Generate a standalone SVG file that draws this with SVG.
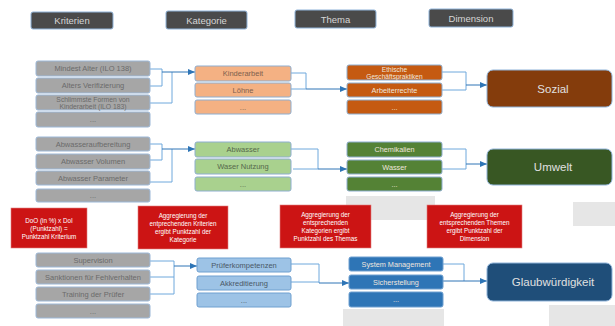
<svg xmlns="http://www.w3.org/2000/svg" width="615" height="326" viewBox="0 0 615 326">
<defs>
<marker id="arr" markerUnits="userSpaceOnUse" markerWidth="7" markerHeight="6" refX="7" refY="3" orient="auto"><path d="M0,0 L7,3 L0,6 z" fill="#2e75b6"/></marker>
<style>
text{font-family:"Liberation Sans",Arial,sans-serif;text-anchor:middle;dominant-baseline:central}
.hdr rect{fill:#4a4a4a;stroke:#8fb3d9;stroke-width:1}
.hdr text{fill:#d6d6d6;font-size:9.5px}
.crit rect{fill:#a6a6a6;stroke:#9cb8d8;stroke-width:1}
.crit text{fill:#6b6b6b;font-size:7.5px}
.kor rect{fill:#f4b183;stroke:#8eaed0;stroke-width:1}
.kor text{fill:#7e5f4e;font-size:7.5px}
.kgr rect{fill:#a9d18e;stroke:#8eaed0;stroke-width:1}
.kgr text{fill:#56684c;font-size:7.5px}
.kbl rect{fill:#9dc3e6;stroke:#6fa0d0;stroke-width:1}
.kbl text{fill:#4a5866;font-size:7.5px}
.tor rect{fill:#c55a11;stroke:#8eaed0;stroke-width:1}
.tgr rect{fill:#548235;stroke:#8eaed0;stroke-width:1}
.tbl rect{fill:#2e75b6;stroke:#6fa0d0;stroke-width:1}
.th text{fill:#f0e6de;font-size:7.3px}
.dim rect{stroke:#8fb3d9;stroke-width:1}
.dim text{fill:#e0e0e0;font-size:11.5px}
.red rect{fill:#cc1414;stroke:#e08080;stroke-width:0.6}
.red text{fill:#ffffff;font-size:6.3px}
.gray{fill:#e6e6e6}
.br{fill:none;stroke:#6fa8dc;stroke-width:1}
.ar{fill:none;stroke:#2e75b6;stroke-width:1;marker-end:url(#arr)}
</style>
</defs>
<rect width="615" height="326" fill="#ffffff"/>
<g id="shadows">
<rect class="gray" x="346" y="196" width="89" height="24"/>
<rect class="gray" x="573" y="202" width="42" height="24"/>
<rect class="gray" x="343" y="309" width="101" height="17"/>
<rect class="gray" x="549" y="305" width="66" height="21"/>
</g>
<g id="headers" class="hdr">
<g id="h-kriterien"><rect x="31" y="12" width="82" height="17" rx="2"/><text x="72" y="20.5">Kriterien</text></g>
<g id="h-kategorie"><rect x="166" y="11" width="81" height="18" rx="2"/><text x="206.5" y="20">Kategorie</text></g>
<g id="h-thema"><rect x="295" y="10" width="81" height="18" rx="2"/><text x="335.5" y="19">Thema</text></g>
<g id="h-dimension"><rect x="429" y="9" width="84" height="18" rx="2"/><text x="471" y="18">Dimension</text></g>
</g>
<g id="connectors">
<path class="br" d="M150,69 H162 V86 H150"/>
<path class="br" d="M150,103 H172 V72"/>
<path class="ar" d="M162,72 H195"/>
<path class="br" d="M291,73 H306 V89 H291"/>
<path class="ar" d="M306,89 H347"/>
<path class="br" d="M442,72 H466 V90 H442"/>
<path class="ar" d="M466,85 H487"/>
<path class="br" d="M150,144 H162 V160 H150"/>
<path class="br" d="M150,182 H172 V149"/>
<path class="ar" d="M162,149 H195"/>
<path class="br" d="M291,149 H318 V169 H293"/>
<path class="ar" d="M318,169 H347"/>
<path class="br" d="M442,149 H466 V169 H442"/>
<path class="ar" d="M466,164 H487"/>
<path class="br" d="M150,261 H174 V294 H150"/>
<path class="br" d="M150,277 H174"/>
<path class="ar" d="M174,266 H197"/>
<path class="br" d="M291,264 H319 V283"/>
<path class="br" d="M291,282 H319"/>
<path class="ar" d="M319,283 H349"/>
<path class="br" d="M443,264 H464 V281"/>
<path class="ar" d="M443,281 H487"/>
</g>
<g id="krit1" class="crit">
<rect x="36" y="61" width="114" height="15" rx="2"/><text x="93" y="68.5">Mindest Alter (ILO 138)</text>
<rect x="36" y="78" width="114" height="15" rx="2"/><text x="93" y="85.5">Alters Verifizierung</text>
<rect x="36" y="95" width="114" height="15" rx="2"/><text x="93" y="99" style="font-size:6.8px">Schlimmste Formen von</text><text x="93" y="106" style="font-size:6.8px">Kinderarbeit (ILO 183)</text>
<rect x="36" y="112" width="114" height="15" rx="2"/><text x="93" y="119.5">...</text>
</g>
<g id="kat1" class="kor">
<rect x="195" y="66" width="96" height="15" rx="2"/><text x="243" y="73.5">Kinderarbeit</text>
<rect x="195" y="83" width="96" height="14" rx="2"/><text x="243" y="90">Löhne</text>
<rect x="195" y="100" width="96" height="14" rx="2"/><text x="243" y="107">...</text>
</g>
<g id="thema1" class="tor th">
<rect x="347" y="65" width="95" height="15" rx="2"/><text x="394.5" y="69" style="font-size:6.6px">Ethische</text><text x="394.5" y="76" style="font-size:6.6px">Geschäftspraktiken</text>
<rect x="347" y="83" width="95" height="14" rx="2"/><text x="394.5" y="90">Arbeiterrechte</text>
<rect x="347" y="100" width="95" height="14" rx="2"/><text x="394.5" y="107">...</text>
</g>
<g id="dim-sozial" class="dim"><rect x="487" y="70" width="125" height="37" rx="6" fill="#843c0c"/><text x="553" y="88.5">Sozial</text></g>
<g id="krit2" class="crit">
<rect x="36" y="137" width="114" height="14" rx="2"/><text x="93" y="144">Abwasseraufbereitung</text>
<rect x="36" y="154" width="114" height="15" rx="2"/><text x="93" y="161.5">Abwasser Volumen</text>
<rect x="36" y="171" width="114" height="14" rx="2"/><text x="93" y="178">Abwasser Parameter</text>
<rect x="36" y="189" width="114" height="13" rx="2"/><text x="93" y="195.5">...</text>
</g>
<g id="kat2" class="kgr">
<rect x="195" y="142" width="96" height="15" rx="2"/><text x="243" y="149.5">Abwasser</text>
<rect x="195" y="159" width="96" height="15" rx="2"/><text x="243" y="166.5">Waser Nutzung</text>
<rect x="195" y="177" width="96" height="14" rx="2"/><text x="243" y="184">...</text>
</g>
<g id="thema2" class="tgr th">
<rect x="347" y="142" width="95" height="15" rx="2"/><text x="394.5" y="149.5">Chemikalien</text>
<rect x="347" y="160" width="95" height="14" rx="2"/><text x="394.5" y="167">Wasser</text>
<rect x="347" y="177" width="95" height="14" rx="2"/><text x="394.5" y="184">...</text>
</g>
<g id="dim-umwelt" class="dim"><rect x="487" y="149" width="125" height="36" rx="6" fill="#385723"/><text x="553" y="167">Umwelt</text></g>
<g id="note1" class="red"><rect x="11" y="208" width="76" height="40"/><text x="49" y="220">DoO (in %) x DoI</text><text x="49" y="228">(Punktzahl) =</text><text x="49" y="236">Punktzahl Kriterium</text></g>
<g id="note2" class="red"><rect x="138" y="206" width="90" height="43"/><text x="183" y="215.5">Aggregierung der</text><text x="183" y="223.5">entprechenden Kriterien</text><text x="183" y="231.5">ergibt Punktzahl der</text><text x="183" y="239.5">Kategorie</text></g>
<g id="note3" class="red"><rect x="280" y="205" width="91" height="43"/><text x="325.5" y="214.5">Aggregierung der</text><text x="325.5" y="222.5">entsprechenden</text><text x="325.5" y="230.5">Kategorien ergibt</text><text x="325.5" y="238.5">Punktzahl des Themas</text></g>
<g id="note4" class="red"><rect x="427" y="205" width="95" height="43"/><text x="474.5" y="214.5">Aggregierung der</text><text x="474.5" y="222.5">entsprechenden Themen</text><text x="474.5" y="230.5">ergibt Punktzahl der</text><text x="474.5" y="238.5">Dimension</text></g>
<g id="krit3" class="crit">
<rect x="36" y="253" width="114" height="14" rx="2"/><text x="93" y="260">Supervision</text>
<rect x="36" y="270" width="114" height="14" rx="2"/><text x="93" y="277">Sanktionen für Fehlverhalten</text>
<rect x="36" y="287" width="114" height="14" rx="2"/><text x="93" y="294">Training der Prüfer</text>
<rect x="36" y="304" width="114" height="14" rx="2"/><text x="93" y="311">...</text>
</g>
<g id="kat3" class="kbl">
<rect x="197" y="258" width="94" height="14" rx="2"/><text x="244" y="265">Prüferkompetenzen</text>
<rect x="197" y="276" width="94" height="14" rx="2"/><text x="244" y="283">Akkreditierung</text>
<rect x="197" y="293" width="94" height="14" rx="2"/><text x="244" y="300">...</text>
</g>
<g id="thema3" class="tbl th">
<rect x="349" y="257" width="94" height="14" rx="2"/><text x="396" y="264">System Management</text>
<rect x="349" y="275" width="94" height="14" rx="2"/><text x="396" y="282">Sicherstellung</text>
<rect x="349" y="292" width="94" height="15" rx="2"/><text x="396" y="299.5">...</text>
</g>
<g id="dim-glaub" class="dim"><rect x="487" y="263" width="125" height="38" rx="6" fill="#1f4e79"/><text x="553" y="282">Glaubwürdigkeit</text></g>
</svg>
